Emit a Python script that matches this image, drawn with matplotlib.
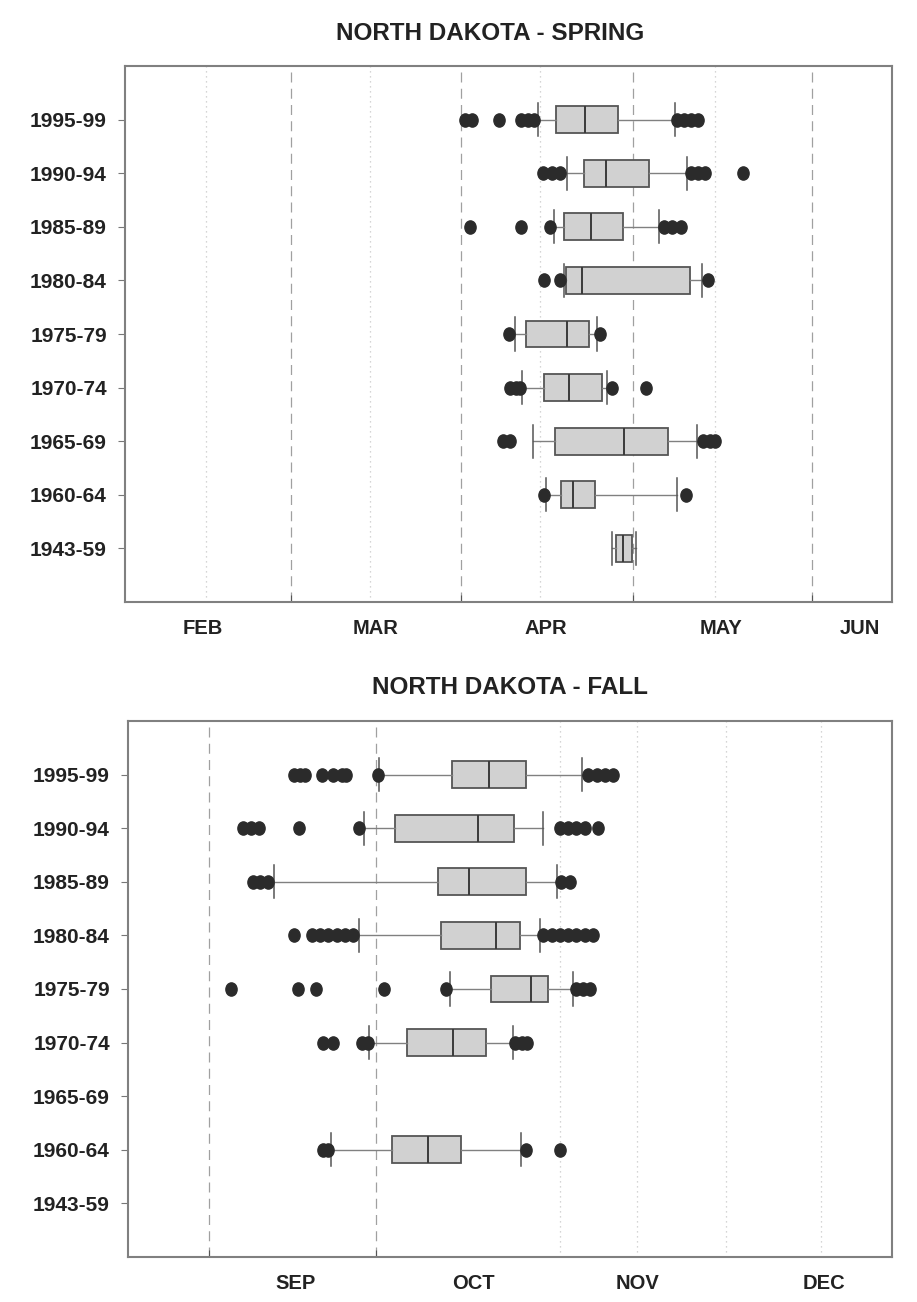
import matplotlib.pyplot as plt
from matplotlib.path import Path
from matplotlib.transforms import Affine2D

plt.rcParams['font.family'] = ['Liberation Sans', 'DejaVu Sans']

periods = ['1995-99', '1990-94', '1985-89', '1980-84', '1975-79',
           '1970-74', '1965-69', '1960-64', '1943-59']

# spring dates (day of year): whisker ends, quartiles, median, outliers
spring_lo = [103.6, 108.8, 106.5, 108.2, 99.6, 100.9, 102.7, 105.1, 116.8]
spring_q1 = [106.8, 111.8, 108.2, 108.6, 101.6, 104.8, 106.6, 107.7, 117.5]
spring_med = [111.9, 115.7, 113.0, 111.4, 108.8, 109.1, 118.8, 109.8, 118.7]
spring_q3 = [117.8, 123.3, 118.6, 130.6, 112.7, 114.9, 126.6, 113.8, 120.2]
spring_hi = [127.8, 130.0, 125.0, 132.6, 114.0, 115.8, 131.8, 128.3, 120.9]
spring_out = [
    [90.7, 92.0, 96.7, 100.6, 101.9, 102.9, 128.2, 129.4, 130.7, 131.9],
    [104.5, 106.1, 107.5, 130.7, 131.9, 133.1, 139.9],
    [91.7, 100.6, 105.7, 125.9, 127.3, 128.9],
    [104.7, 107.5, 133.7],
    [98.6, 114.7],
    [98.7, 99.8, 100.5, 116.8, 122.7],
    [97.5, 98.8, 132.8, 134.0, 134.9],
    [104.8, 129.8],
    [],
]

# fall dates (day of year), no data for 1965-69 and 1943-59
fall_lo = [273.5, 271.0, 255.3, 270.0, 285.9, 271.8, None, 265.2, None]
fall_q1 = [286.3, 276.4, 283.9, 284.3, 293.0, 278.4, None, 275.9, None]
fall_med = [292.7, 290.8, 289.2, 293.9, 300.0, 286.5, None, 282.0, None]
fall_q3 = [299.1, 297.1, 299.1, 298.1, 303.0, 292.2, None, 287.9, None]
fall_hi = [308.8, 302.1, 304.5, 301.6, 307.3, 296.8, None, 298.3, None]
fall_out = [
    [258.7, 259.8, 260.7, 263.6, 265.6, 267.1, 267.9, 273.4,
     310.0, 311.4, 312.9, 314.3],
    [249.9, 251.3, 252.7, 259.7, 270.0, 305.0, 306.4, 307.9, 309.4, 311.7],
    [251.7, 252.9, 254.3, 305.3, 306.8],
    [258.7, 261.9, 263.3, 264.7, 266.2, 267.7, 269.1,
     302.1, 303.6, 305.0, 306.5, 307.9, 309.4, 310.8],
    [247.8, 259.5, 262.6, 274.4, 285.2, 307.9, 309.1, 310.3],
    [263.9, 265.6, 270.6, 271.7, 297.2, 298.4, 299.3],
    None,
    [263.9, 264.7, 299.1, 305.0],
    None,
]

spring_months = ['FEB', 'MAR', 'APR', 'MAY', 'JUN']
spring_month_pos = [44.5, 75, 105, 136, 160.5]
spring_dashed = [60, 90, 120.5, 152]
spring_dotted = [45, 74, 104, 135]

fall_months = ['SEP', 'OCT', 'NOV', 'DEC']
fall_month_pos = [259, 290, 318.5, 351]
fall_dashed = [244, 273]
fall_dotted = [305, 318.5, 334, 350.5]


def box_stats(lo, q1, med, q3, hi, out):
    stats, pos = [], []
    for i in range(len(periods)):
        if med[i] is None:
            continue
        stats.append(dict(whislo=lo[i], q1=q1[i], med=med[i], q3=q3[i],
                          whishi=hi[i], fliers=out[i]))
        pos.append(len(periods) - i)
    return stats, pos


# slightly tall dots for the outliers
dot = Path.unit_circle().transformed(Affine2D().scale(0.85, 1.0))


def draw_panel(ax, stats, pos, xlim, dashed, dotted, month_pos, months):
    for x in dashed:
        ax.axvline(x, color='#a0a0a0', lw=0.9, ls=(0, (8, 5)), zorder=0)
    for x in dotted:
        ax.axvline(x, color='#c8c8c8', lw=0.9, ls=(0, (1, 3)), zorder=0)

    ax.bxp(stats, positions=pos, orientation='horizontal', widths=0.5,
           capwidths=0.62, patch_artist=True, manage_ticks=False,
           boxprops=dict(facecolor='#d1d1d1', edgecolor='#555555', lw=1.3),
           medianprops=dict(color='#3a3a3a', lw=1.4),
           whiskerprops=dict(color='#808080', lw=1.0),
           capprops=dict(color='#555555', lw=1.1),
           flierprops=dict(marker=dot, markersize=9.5, markerfacecolor='#2b2b2b',
                           markeredgecolor='#2b2b2b', linestyle='none'))

    ax.set_xlim(*xlim)
    ax.set_ylim(0, 10)
    ax.set_yticks(range(len(periods), 0, -1), periods)
    ax.set_xticks(dashed)
    ax.set_xticks(month_pos, months, minor=True)
    ax.tick_params(axis='x', which='major', direction='in', length=5,
                   color='#555555', labelbottom=False)
    ax.tick_params(axis='x', which='minor', length=0, pad=12,
                   labelsize=14.5, labelcolor='#222222')
    ax.tick_params(axis='y', length=5, color='#777777', pad=8,
                   labelsize=15, labelcolor='#222222')
    for lbl in ax.get_xticklabels(minor=True) + ax.get_yticklabels():
        lbl.set_fontweight('bold')
    for s in ax.spines.values():
        s.set_color('#808080')
        s.set_linewidth(1.5)


W, H = 917, 1302
fig = plt.figure(figsize=(W / 100, H / 100), dpi=100)

ax_spring = fig.add_axes([125 / W, 1 - 602 / H, 767 / W, 536 / H])
ax_fall = fig.add_axes([128 / W, 1 - 1257 / H, 764 / W, 536 / H])

stats, pos = box_stats(spring_lo, spring_q1, spring_med, spring_q3, spring_hi, spring_out)
draw_panel(ax_spring, stats, pos, (30.7, 166.2), spring_dashed, spring_dotted,
           spring_month_pos, spring_months)

stats, pos = box_stats(fall_lo, fall_q1, fall_med, fall_q3, fall_hi, fall_out)
draw_panel(ax_fall, stats, pos, (229.9, 362.8), fall_dashed, fall_dotted,
           fall_month_pos, fall_months)

fig.text(490 / W, 1 - 34 / H, 'NORTH DAKOTA - SPRING', ha='center', va='center',
         fontsize=17.5, fontweight='bold', color='#222222')
fig.text(510 / W, 1 - 688 / H, 'NORTH DAKOTA - FALL', ha='center', va='center',
         fontsize=17.5, fontweight='bold', color='#222222')

fig.savefig('out.png', dpi=100)
